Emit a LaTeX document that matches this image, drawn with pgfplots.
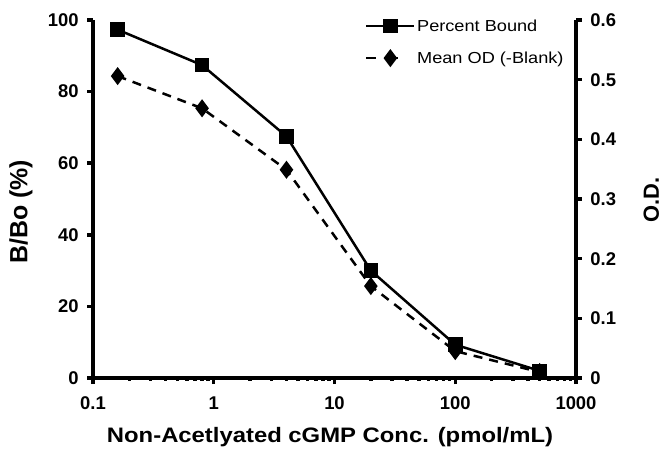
\documentclass[border=0pt]{standalone}
\usepackage{pgfplots}
\pgfplotsset{compat=1.18}
\usepackage{fontspec}
\setmainfont{Liberation Sans}
\newfontfamily\widefont{Liberation Sans}[FakeStretch=1.14]

\pgfplotstableread{
x     pb    od
0.16  97.3  0.506
0.8   87.4  0.452
4     67.5  0.349
20    30.0  0.154
100   9.3   0.045
500   2.0   0.010
}\datatable

\pgfplotsset{
  legend image code/.code={
    \draw[mark repeat=2,mark phase=2,#1] plot coordinates {(0bp,0bp) (24bp,0bp) (48bp,0bp)};
  },
}

\begin{document}
\begin{tikzpicture}
\useasboundingbox (-93bp,-73bp) rectangle (572bp,378bp);
\begin{axis}[
  width=483bp, height=358bp, scale only axis,
  xmode=log, xmin=0.1, xmax=1000,
  axis x line*=bottom, axis y line*=left,
  axis line style={line width=4.5bp, -},
  every tick/.style={line width=3.5bp, black},
  major tick length=6bp,
  tick align=outside,
  ticklabel style={font=\bfseries\fontsize{18.5}{20}\selectfont},
  xticklabel style={yshift=-9bp},
  yticklabel style={xshift=-5bp},
  ymin=0, ymax=100,
  xtick={0.1,1,10,100,1000},
  xticklabels={0.1,1,10,100,1000},
  ytick={0,20,40,60,80,100},
  yticklabels={0,20,40,60,80,100},
  minor xtick={}, minor ytick={},
  xlabel={Non-Acetlyated cGMP Conc. (pmol/mL)},
  xlabel style={at={(axis description cs:0.4907,-0.179)}, anchor=base,
    font=\widefont\bfseries\fontsize{21}{24}\selectfont},
  ylabel={B/Bo (\%)},
  ylabel style={at={(axis description cs:-0.149,0.464)}, anchor=center, rotate=0,
    font=\bfseries\fontsize{25}{28}\selectfont},
  legend style={at={(0.563,1.006)}, anchor=north west, draw=none, fill=none,
    inner sep=0pt, row sep=16bp,
    font=\widefont\fontsize{16}{18}\selectfont,
    nodes={inner sep=1.5bp}},
  legend cell align=left,
]
\addplot[black, line width=2.5bp, mark=square*, mark size=6bp, mark options={solid}]
  table[x=x, y=pb] {\datatable};
\addlegendentry{Percent Bound}
\addlegendimage{black, line width=2.5bp, dash pattern=on 10bp off 8bp on 14bp off 40bp, mark=diamond*, mark size=7bp, mark options={solid}}
\addlegendentry{Mean OD (-Blank)}
\end{axis}
\begin{axis}[
  width=483bp, height=358bp, scale only axis,
  xmode=log, xmin=0.1, xmax=1000,
  axis x line=none, axis y line*=right,
  axis line style={line width=4.5bp, -},
  every tick/.style={line width=3.5bp, black},
  major tick length=6bp,
  tick align=outside,
  ticklabel style={font=\bfseries\fontsize{18.5}{20}\selectfont},
  yticklabel style={xshift=5bp},
  ymin=0, ymax=0.6,
  ytick={0,0.1,0.2,0.3,0.4,0.5,0.6},
  yticklabels={0,0.1,0.2,0.3,0.4,0.5,0.6},
  minor ytick={},
  ylabel={O.D.},
  ylabel style={at={(axis description cs:1.156,0.497)}, anchor=center,
    font=\bfseries\fontsize{22}{24}\selectfont},
]
\addplot[black, line width=2.5bp, dash pattern=on 9bp off 7bp, mark=diamond*, mark size=7bp, mark options={solid}]
  table[x=x, y=od] {\datatable};
\end{axis}
\end{tikzpicture}
\end{document}
